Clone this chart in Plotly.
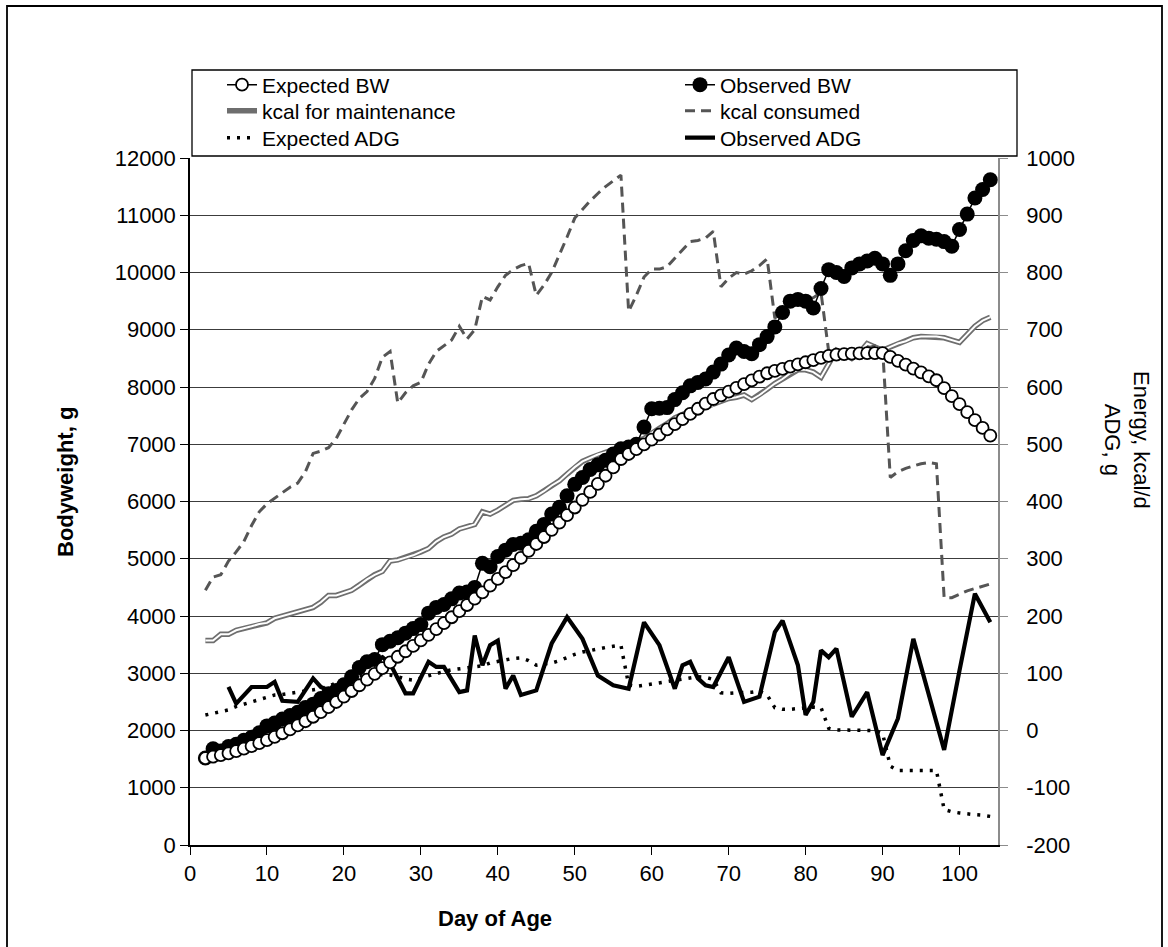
import plotly.graph_objects as go

day = list(range(2, 105))

expected_bw = [
    1517, 1542, 1570, 1602, 1640, 1682, 1728, 1778, 1832, 1890,
    1952, 2018, 2088, 2162, 2240, 2322, 2408, 2498, 2592, 2690,
    2790, 2890, 2990, 3090, 3190, 3288, 3384, 3478, 3574, 3672,
    3772, 3874, 3978, 4084, 4192, 4302, 4414, 4530, 4648, 4768,
    4890, 5014, 5138, 5258, 5380, 5505, 5632, 5762, 5895, 6030,
    6168, 6308, 6450, 6595, 6742, 6830, 6915, 6998, 7082, 7170,
    7260, 7350, 7440, 7530, 7620, 7710, 7790, 7855, 7920, 7985,
    8050, 8115, 8180, 8240, 8280, 8318, 8356, 8394, 8432, 8470,
    8508, 8545, 8565, 8575, 8582, 8587, 8590, 8592, 8590, 8525,
    8458, 8390, 8322, 8254, 8186, 8118, 7980, 7840, 7700, 7560,
    7420, 7285, 7150,
]

observed_bw = [
    1520, 1680, 1640, 1720, 1760, 1830, 1880, 1960, 2080, 2130,
    2200, 2260, 2320, 2400, 2460, 2560, 2640, 2700, 2800, 2940,
    3100, 3200, 3240, 3500, 3560, 3620, 3700, 3780, 3850, 4050,
    4150, 4200, 4300, 4400, 4420, 4500, 4920, 4860, 5040, 5150,
    5250, 5270, 5330, 5480, 5600, 5780, 5900, 6100, 6300, 6420,
    6560, 6640, 6720, 6830, 6920, 6950, 7000, 7300, 7620, 7630,
    7640, 7780, 7900, 8020, 8080, 8140, 8260, 8400, 8560, 8680,
    8620, 8580, 8740, 8880, 9050, 9300, 9500, 9530, 9500, 9380,
    9720, 10050, 10000, 9930, 10080, 10150, 10200, 10250, 10150, 9950,
    10150, 10380, 10560, 10640, 10600, 10580, 10540, 10460, 10750, 11020,
    11300, 11450, 11620,
]

kcal_maintenance = [
    157, 157, 168, 168, 175, 178, 182, 186, 188, 196,
    200, 204, 208, 212, 215, 224, 236, 236, 240, 245,
    254, 264, 272, 278, 296, 298, 302, 306, 312, 318,
    330, 338, 343, 352, 356, 360, 382, 378, 385, 394,
    402, 404, 405, 410, 418, 428, 436, 448, 460, 470,
    476, 482, 486, 490, 496, 500, 506, 510, 520, 528,
    536, 546, 552, 558, 560, 565, 568, 575, 580, 582,
    586, 578, 586, 596, 606, 614, 624, 630, 630, 626,
    617, 640, 664, 658, 650, 660, 676, 670, 664, 670,
    676, 680, 686, 688, 688, 688, 686, 682, 678, 692,
    706, 716, 722,
]

kcal_consumed = [
    245, 268, 272, 296, 312, 330, 358, 382, 396, 406,
    416, 425, 432, 452, 484, 488, 494, 510, 535, 560,
    580, 592, 615, 652, 662, 572, 590, 602, 608, 640,
    662, 672, 682, 706, 684, 700, 758, 752, 775, 795,
    805, 812, 816, 760, 778, 800, 830, 862, 895, 910,
    925, 938, 950, 960, 970, 732, 760, 792, 806, 806,
    810, 825, 840, 854, 856, 860, 872, 775, 790, 800,
    797, 803, 812, 824, 720, 735, 745, 748, 752, 756,
    765, 662, 660, 664, 658, 662, 668, 672, 668, 442,
    452, 458, 462, 466, 468, 466, 232, 232, 238, 244,
    248, 252, 256,
]

expected_adg = [
    27, 30, 33, 36, 42, 46, 50, 55, 59, 62,
    63, 65, 66, 68, 70, 73, 77, 84, 90, 94,
    96, 97, 98, 98, 97, 94, 90, 88, 92, 96,
    100, 103, 106, 108, 110, 112, 113, 118, 121, 124,
    126, 127, 122, 114, 116, 118, 122, 128, 133, 137,
    140, 143, 145, 147, 149, 80, 77, 79, 81, 83,
    85, 87, 90, 92, 94, 93, 89, 66, 65, 66,
    66, 67, 69, 62, 40, 37, 37, 38, 39, 41,
    40, 4, 1, 1, 1, 1, 1, 0, -5, -62,
    -70, -70, -70, -70, -70, -70, -138, -142, -144, -146,
    -147, -148, -150,
]

obs_adg_day = [5, 6, 8, 10, 11, 12, 14, 16, 17, 18,
               19, 20, 21, 22, 23, 24, 25, 26, 28, 29,
               31, 32, 33, 35, 36, 37, 38, 39, 40, 41,
               42, 43, 45, 47, 49, 51, 53, 55, 57, 59,
               61, 63, 64, 65, 66, 67, 68, 70, 72, 74,
               76, 77, 79, 80, 81, 82, 83, 84, 86, 88,
               90, 92, 94, 96, 98, 100, 102, 104]
observed_adg = [76, 47, 76, 76, 85, 52, 50, 91, 76, 70,
                72, 68, 95, 115, 120, 122, 128, 117, 65, 65,
                120, 111, 111, 67, 70, 166, 114, 149, 157, 73,
                96, 62, 70, 152, 198, 160, 96, 79, 73, 189,
                149, 73, 114, 120, 91, 79, 76, 128, 50, 59,
                172, 192, 114, 27, 50, 140, 128, 143, 24, 67,
                -43, 21, 160, 65, -34, 105, 239, 189]

right_tick_values = [-200, -100, 0, 100, 200, 300, 400, 500, 600, 700, 800, 900, 1000]
right_tick_labels = ["-200", "-100", "0", "100", "200", "300", "400", "500",
                     "600", "700", "800", "900", "1000"]

FONT = "Arial, 'Liberation Sans', sans-serif"

fig = go.Figure()

# Energy / ADG series (right axis, base subplot)
fig.add_trace(go.Scatter(x=day, y=kcal_maintenance, name="kcal for maintenance",
                         mode="lines", line=dict(color="#6e6e6e", width=5.5),
                         yaxis="y", legend="legend3"))
fig.add_trace(go.Scatter(x=day, y=kcal_maintenance, name="kcal for maintenance",
                         mode="lines", line=dict(color="white", width=2),
                         yaxis="y", showlegend=False, hoverinfo="skip"))
fig.add_trace(go.Scatter(x=day, y=kcal_consumed, name="kcal consumed",
                         mode="lines", line=dict(color="#555555", width=3, dash="10px,6px"),
                         yaxis="y", legend="legend4"))
fig.add_trace(go.Scatter(x=day, y=expected_adg, name="Expected ADG",
                         mode="lines", line=dict(color="black", width=3.5, dash="3px,7px"),
                         yaxis="y", legend="legend5"))
fig.add_trace(go.Scatter(x=obs_adg_day, y=observed_adg, name="Observed ADG",
                         mode="lines", line=dict(color="black", width=4.2),
                         yaxis="y", legend="legend6"))

# Bodyweight series (left axis, overlaying -> drawn on top)
fig.add_trace(go.Scatter(x=day, y=observed_bw, name="Observed BW",
                         mode="lines+markers", line=dict(color="black", width=1.5),
                         marker=dict(symbol="circle", size=15, color="black"),
                         yaxis="y2", legend="legend2"))
fig.add_trace(go.Scatter(x=day, y=expected_bw, name="Expected BW",
                         mode="lines+markers", line=dict(color="black", width=1.5),
                         marker=dict(symbol="circle", size=12, color="white",
                                     line=dict(color="black", width=1.8)),
                         yaxis="y2", legend="legend"))

# geometry helpers (paper coordinates)
L, R, T, B = 190, 998, 158, 845
PW, PH = R - L, B - T


def px(xp):
    return (xp - L) / PW


def py(yp):
    return (B - yp) / PH


def leg(xl, yc):
    return dict(x=px(xl), y=py(yc), xanchor="left", yanchor="middle",
                bgcolor="rgba(0,0,0,0)", borderwidth=0,
                font=dict(size=21, color="black"))


fig.update_layout(
    width=1168, height=947,
    paper_bgcolor="white", plot_bgcolor="white",
    margin=dict(l=L, r=1168 - R, t=T, b=947 - B, autoexpand=False),
    font=dict(family=FONT, size=22, color="black"),
    xaxis=dict(range=[0, 105], tick0=0, dtick=10, ticks="outside", ticklen=8,
               tickcolor="black", tickwidth=1.3, showline=True, linecolor="black",
               linewidth=1.5, showgrid=False, zeroline=False,
               tickfont=dict(size=22, color="black")),
    yaxis=dict(range=[-200, 1000], tickmode="array", tickvals=right_tick_values,
               ticktext=right_tick_labels, side="right",
               ticks="outside", ticklen=8, tickcolor="#8c8c8c", tickwidth=1.3,
               showline=True, linecolor="#8c8c8c", linewidth=1.5,
               showgrid=True, gridcolor="#3c3c3c", gridwidth=1.3, zeroline=False,
               tickfont=dict(size=22, color="black"), ticklabelstandoff=14),
    yaxis2=dict(range=[0, 12000], tick0=0, dtick=1000, tickformat="d",
                side="left", overlaying="y",
                ticks="outside", ticklen=8, tickcolor="black", tickwidth=1.3,
                showline=True, linecolor="black", linewidth=1.5,
                showgrid=False, zeroline=False,
                tickfont=dict(size=22, color="black")),
    legend=leg(222, 85),
    legend2=leg(680, 85),
    legend3=leg(222, 111),
    legend4=leg(680, 111),
    legend5=leg(222, 138),
    legend6=leg(680, 138),
    showlegend=True,
)

# legend frame and outer chart border
fig.add_shape(type="rect", xref="paper", yref="paper",
              x0=px(192), x1=px(1017), y0=py(156), y1=py(70),
              line=dict(color="black", width=1.3), fillcolor="rgba(0,0,0,0)", layer="above")
fig.add_shape(type="rect", xref="paper", yref="paper",
              x0=px(7), x1=px(1162), y0=py(952), y1=py(6),
              line=dict(color="black", width=1.8), fillcolor="rgba(0,0,0,0)", layer="above")

# axis titles
fig.add_annotation(text="<b>Day of Age</b>", xref="paper", yref="paper",
                   x=px(495), y=py(918), xanchor="center", yanchor="middle",
                   showarrow=False, font=dict(size=22))
fig.add_annotation(text="<b>Bodyweight, g</b>", xref="paper", yref="paper",
                   x=px(65), y=py(482), xanchor="center", yanchor="middle",
                   showarrow=False, textangle=-90, font=dict(size=22))
fig.add_annotation(text="Energy, kcal/d<br>ADG, g", xref="paper", yref="paper",
                   x=px(1127), y=py(440), xanchor="center", yanchor="middle",
                   showarrow=False, textangle=90, font=dict(size=22))

fig.write_html("out.html", post_script="document.body.style.margin='0px';",
               config={"displayModeBar": False})
